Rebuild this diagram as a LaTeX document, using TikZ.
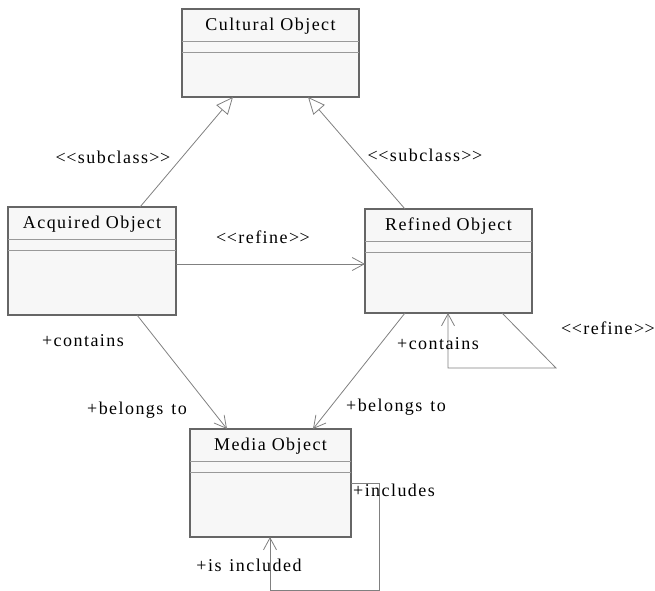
\documentclass[tikz,border=0pt]{standalone}
\usepackage{fontspec}
\setmainfont{Liberation Serif}[LetterSpace=8]
\usetikzlibrary{arrows.meta,calc}
\definecolor{boxfill}{HTML}{F7F7F7}
\definecolor{boxline}{HTML}{666666}
\definecolor{sepline}{HTML}{999999}
\definecolor{conn}{HTML}{808080}
\newcommand\dlt{<\kern0.5bp<}
\newcommand\dgt{>\kern0.5bp>}
\tikzset{
  umlbox/.style={draw=boxline, line width=1.4bp, fill=boxfill, inner sep=0, outer sep=0, rectangle, anchor=north west},
  sep/.style={draw=sepline, line width=1.3bp},
  ttl/.style={inner sep=0, font=\fontsize{18bp}{20bp}\selectfont},
  lbl/.style={inner sep=0, font=\fontsize{18bp}{20bp}\selectfont},
  conline/.style={draw=conn, line width=0.8bp},
  gen/.style={conline, -{Triangle[open, length=17bp, width=15bp, fill=white]}},
  assoc/.style={conline, -{Straight Barb[length=12bp, width=13bp]}},
}
\begin{document}
\begin{tikzpicture}[x=1bp, y=-1bp]
\useasboundingbox (0,0) rectangle (655,591);
% boxes
\node[umlbox, minimum width=177bp, minimum height=88bp] (cult) at (182,9) {};
\node[umlbox, minimum width=168bp, minimum height=108bp] (acq) at (8,207) {};
\node[umlbox, minimum width=167bp, minimum height=104bp] (ref) at (365,209) {};
\node[umlbox, minimum width=161bp, minimum height=108bp] (med) at (190,429) {};
% separators
\foreach \b in {cult,acq,ref,med}{
  \draw[sep] ($(\b.north west)+(0,32.5)$) -- ($(\b.north east)+(0,32.5)$);
  \draw[sep] ($(\b.north west)+(0,43.5)$) -- ($(\b.north east)+(0,43.5)$);
}
% titles
\node[ttl] (cultT) at ($(cult.north)+(0,17)$) {Cultural Object};
\node[ttl] (acqT) at ($(acq.north)+(0,17)$) {Acquired Object};
\node[ttl] (refT) at ($(ref.north)+(0,17)$) {Refined Object};
\node[ttl] (medT) at ($(med.north)+(0,17)$) {Media Object};
% connector end points
\coordinate (acqTop) at (140,207);
\coordinate (cultL) at (233,97);
\coordinate (refTop) at (405,209);
\coordinate (cultR) at (308,97);
\coordinate (acqR) at (176,264);
\coordinate (refL) at (365,264);
\coordinate (acqB) at (137,315);
\coordinate (medTL) at (227,429);
\coordinate (refB) at (405,313);
\coordinate (medTR) at (313,429);
\coordinate (refB2) at (502,313);
\coordinate (r1) at (556,368);
\coordinate (r2) at (448,368);
\coordinate (refB3) at (448,313);
\coordinate (medR) at (351,483);
\coordinate (m1) at (379,483);
\coordinate (m2) at (379,590);
\coordinate (m3) at (270,590);
\coordinate (medB) at (270,537);
% connectors
\draw[gen] (acqTop) -- (cultL);
\draw[gen] (refTop) -- (cultR);
\draw[assoc] (acqR) -- (refL);
\draw[assoc] (acqB) -- (medTL);
\draw[assoc] (refB) -- (medTR);
\draw[assoc] (refB2) -- (r1) -- (r2) -- (refB3);
\draw[assoc] (medR) -- (m1) -- (m2) -- (m3) -- (medB);
% labels
\node[lbl] (l1) at (113,157) {\dlt subclass\dgt};
\node[lbl] (l2) at (425,155) {\dlt subclass\dgt};
\node[lbl] (l3) at (263,237) {\dlt refine\dgt};
\node[lbl] (l4) at (83,341) {+contains};
\node[lbl] (l5) at (137,410) {+belongs\hspace{2bp} to};
\node[lbl] (l6) at (396,407) {+belongs\hspace{2bp} to};
\node[lbl] (l7) at (438,344) {+contains};
\node[lbl] (l8) at (608,328) {\dlt refine\dgt};
\node[lbl] (l9) at (394,490) {+includes};
\node[lbl] (l10) at (249,565) {+is\hspace{2bp} included};
\end{tikzpicture}
\end{document}
